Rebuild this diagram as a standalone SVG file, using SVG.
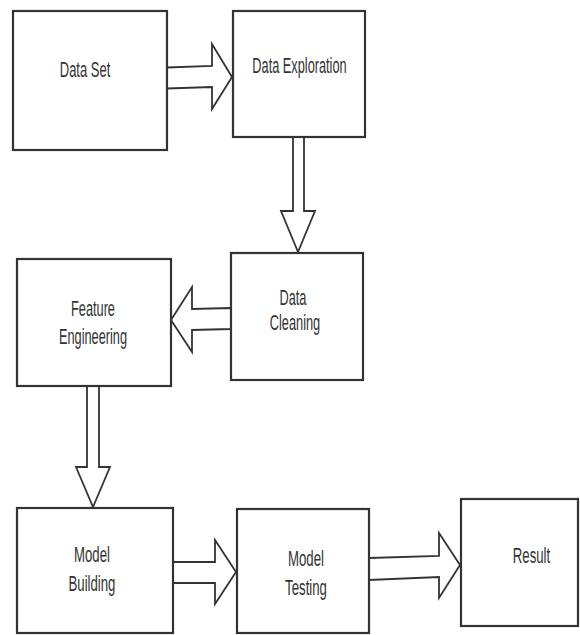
<svg xmlns="http://www.w3.org/2000/svg" width="580" height="635" viewBox="0 0 580 635">
<style>
.box{fill:#fff;stroke:#333;stroke-width:2.2}
.arr{fill:#fff;stroke:#333;stroke-width:1.8;stroke-linejoin:miter}
.t{font-family:"Liberation Sans",Arial,sans-serif;font-size:22px;fill:#333;text-anchor:middle}
</style>
<rect width="580" height="635" fill="#fff"/>
<g id="connectors">
<polygon class="arr" points="167,67.5 212,66 212,44 232,77 212,109 212,87 167,88.5"/>
<polygon class="arr" points="293,137 304,137 304,211 315,211 298,252 281,211 293,211"/>
<polygon class="arr" points="231,308 192,309 192,287 171,320 192,352 192,330 231,329"/>
<polygon class="arr" points="87,386 99,386 99,467 110,467 93,507 76,467 87,467"/>
<polygon class="arr" points="173,562 215,562 215,540 236,572 215,604 215,583 173,583"/>
<polygon class="arr" points="369,558 439,556 439,533 460,565 439,598 439,577 369,580"/>
</g>
<g id="data-set">
<rect class="box" x="13" y="11" width="154" height="139"/>
<text class="t" transform="translate(85,77) scale(0.59,1)">Data Set</text>
</g>
<g id="data-exploration">
<rect class="box" x="233" y="11" width="132" height="126"/>
<text class="t" transform="translate(299.5,73) scale(0.58,1)">Data Exploration</text>
</g>
<g id="data-cleaning">
<rect class="box" x="231" y="253" width="132" height="127"/>
<text class="t" transform="translate(293,305) scale(0.58,1)">Data</text>
<text class="t" transform="translate(295,330) scale(0.58,1)">Cleaning</text>
</g>
<g id="feature-engineering">
<rect class="box" x="17" y="259" width="154" height="127"/>
<text class="t" transform="translate(93,316) scale(0.58,1)">Feature</text>
<text class="t" transform="translate(93,344) scale(0.58,1)">Engineering</text>
</g>
<g id="model-building">
<rect class="box" x="17" y="508" width="156" height="125"/>
<text class="t" transform="translate(92,562) scale(0.6,1)">Model</text>
<text class="t" transform="translate(92,591) scale(0.6,1)">Building</text>
</g>
<g id="model-testing">
<rect class="box" x="237" y="509" width="132" height="124"/>
<text class="t" transform="translate(306,566) scale(0.6,1)">Model</text>
<text class="t" transform="translate(306,595) scale(0.6,1)">Testing</text>
</g>
<g id="result">
<rect class="box" x="461" y="499" width="117" height="127"/>
<text class="t" transform="translate(531.5,563) scale(0.6,1)">Result</text>
</g>
</svg>
